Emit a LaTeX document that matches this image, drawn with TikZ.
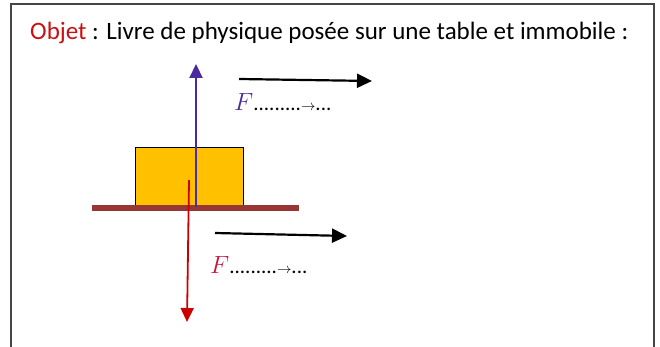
\documentclass[tikz,border=0pt]{standalone}
\usepackage{fontspec}
\setmainfont{Carlito}
\usepackage{xcolor}
\usepackage{tikz}
\usetikzlibrary{arrows.meta,positioning}
\definecolor{lvred}{RGB}{200,16,16}
\definecolor{lvframe}{RGB}{70,70,70}
\definecolor{lvyellow}{RGB}{255,192,0}
\definecolor{lvbrown}{RGB}{150,55,53}
\definecolor{lvblue}{RGB}{75,42,160}
\definecolor{lvforce}{RGB}{204,0,0}
\definecolor{lvpink}{RGB}{204,20,60}
\tikzset{
  lvarr/.style={-{Triangle[length=14pt,width=13pt]}, line width=2.2pt},
  lvlabel/.style={anchor=base west, inner sep=0pt, font=\fontsize{21}{21}\selectfont}
}
\newcommand{\lvvec}[1]{{\fontsize{23}{23}\selectfont\color{#1}$F$}.........$\scriptstyle\rightarrow$...}

\begin{document}
\begin{tikzpicture}[x=1pt,y=-1pt]
\useasboundingbox (0,0) rectangle (660,347);
\draw[lvframe, line width=1.8pt] (11,347) -- (11,4) -- (654,4) -- (654,347);
\node[anchor=base west, inner sep=0pt, font=\fontsize{25}{28}\selectfont] (title) at (30,40)
  {\textcolor{lvred}{Objet} : Livre de physique posée sur une table et immobile :};
% livre et table
\node[draw=black, fill=lvyellow, anchor=north west, inner sep=0pt,
  minimum width=108pt, minimum height=58pt] (book) at (135,147) {};
\node[fill=lvbrown, inner sep=0pt, minimum width=207pt, minimum height=6pt] (table) at (195.5,208) {};
% forces
\coordinate (contact) at (196,207);
\coordinate (upTip) at (196,64);
\coordinate (gravity) at (189,180);
\coordinate (downTip) at (187,322);
\draw[lvarr, lvblue] (contact) -- (upTip);
\draw[lvarr, lvforce, line width=1.8pt] (gravity) -- (downTip);
% sens des forces
\coordinate (dirA) at (239,79);
\coordinate (dirAend) at (372,81);
\coordinate (dirB) at (215,233);
\coordinate (dirBend) at (347,236);
\draw[lvarr, -{Triangle[length=15pt,width=14pt]}] (dirA) -- (dirAend);
\draw[lvarr, -{Triangle[length=15pt,width=14pt]}] (dirB) -- (dirBend);
\node[lvlabel] (labA) at (234,111) {\lvvec{lvblue}};
\node[lvlabel] (labB) at (210,273) {\lvvec{lvpink}};
\end{tikzpicture}
\end{document}
